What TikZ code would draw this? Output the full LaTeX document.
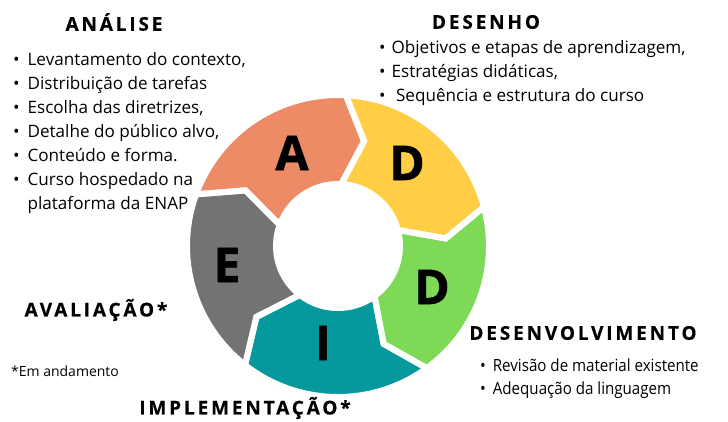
\documentclass[tikz,border=0pt]{standalone}
\usepackage{fontspec}
\setmainfont{Open Sans}
\newfontfamily\titlefont[LetterSpace=15, BoldFeatures={FakeBold=0.4}]{Open Sans}
\newfontfamily\heavyfont[BoldFeatures={FakeBold=1.2}]{Open Sans}
\newfontfamily\condfont[FakeStretch=0.9]{Open Sans}
\definecolor{cA}{HTML}{EC8B66}
\definecolor{cD}{HTML}{FFCE45}
\definecolor{cDv}{HTML}{7ED957}
\definecolor{cI}{HTML}{05999E}
\definecolor{cE}{HTML}{737373}
\tikzset{
  title/.style={font=\titlefont\bfseries\fontsize{19}{22}\selectfont, inner sep=0pt},
  letter/.style={font=\heavyfont\bfseries\fontsize{48}{48}\selectfont, inner sep=0pt},
  blist/.style={font=\fontsize{17.1}{24}\selectfont, inner sep=0pt, anchor=north west, align=left},
}
\newcommand{\segpath}[2]{(#1:151) arc[start angle=#1, end angle=#2, radius=151] -- (#2-11:108) -- (#2:62) arc[start angle=#2, end angle=#1, radius=62] -- (#1-11:108) -- cycle}
\begin{document}
\begin{tikzpicture}[x=1pt,y=1pt]
\useasboundingbox (0,0) rectangle (728,-421);
\begin{scope}[shift={(338,-246)}]
  \fill[cA] \segpath{160}{87};
  \fill[cD] \segpath{87}{15};
  \fill[cDv] \segpath{15}{-54};
  \fill[cI] \segpath{-54}{-128};
  \fill[cE] \segpath{-128}{-200};
  \foreach \a/\b in {160/87,87/15,15/-54,-54/-128,-128/-200}
    \draw[white, line width=6pt, line join=miter] \segpath{\a}{\b};
\end{scope}
\node[letter] (lA) at (292,-153) {A};
\node[letter] (lD1) at (407,-163) {D};
\node[letter] (lD2) at (432,-287) {D};
\node[letter] (lI) at (323,-343) {I};
\node[letter] (lE) at (227,-265) {E};

\node[title] (tA) at (114,-22) {ANÁLISE};
\node[title] (tD) at (486,-22) {DESENHO};
\node[title] (tDv) at (583,-333) {DESENVOLVIMENTO};
\node[title] (tI) at (245,-408) {IMPLEMENTAÇÃO*};
\node[title] (tE) at (96,-310) {AVALIAÇÃO*};

\node[blist] (lstA) at (13,-48) {\begin{tabular}{@{}l@{\hspace{8pt}}l@{}}
•&Levantamento do contexto,\\
•&Distribuição de tarefas\\
•&Escolha das diretrizes,\\
•&Detalhe do público alvo,\\
•&Conteúdo e forma.\\
•&Curso hospedado na\\
 &plataforma da ENAP
\end{tabular}};
\node[blist] (lstD) at (379,-36) {\begin{tabular}{@{}l@{\hspace{6pt}}l@{}}
•&Objetivos e etapas de aprendizagem,\\
•&Estratégias didáticas,\\
•&\ Sequência e estrutura do curso
\end{tabular}};
\node[blist, font=\condfont\fontsize{16.8}{23}\selectfont] (lstDv) at (480,-355) {\begin{tabular}{@{}l@{\hspace{7pt}}l@{}}
•&Revisão de material existente\\
•&Adequação da linguagem
\end{tabular}};
\node[font=\fontsize{14}{16}\selectfont, inner sep=0pt] (note) at (65,-371) {*Em andamento};
\end{tikzpicture}
\end{document}
